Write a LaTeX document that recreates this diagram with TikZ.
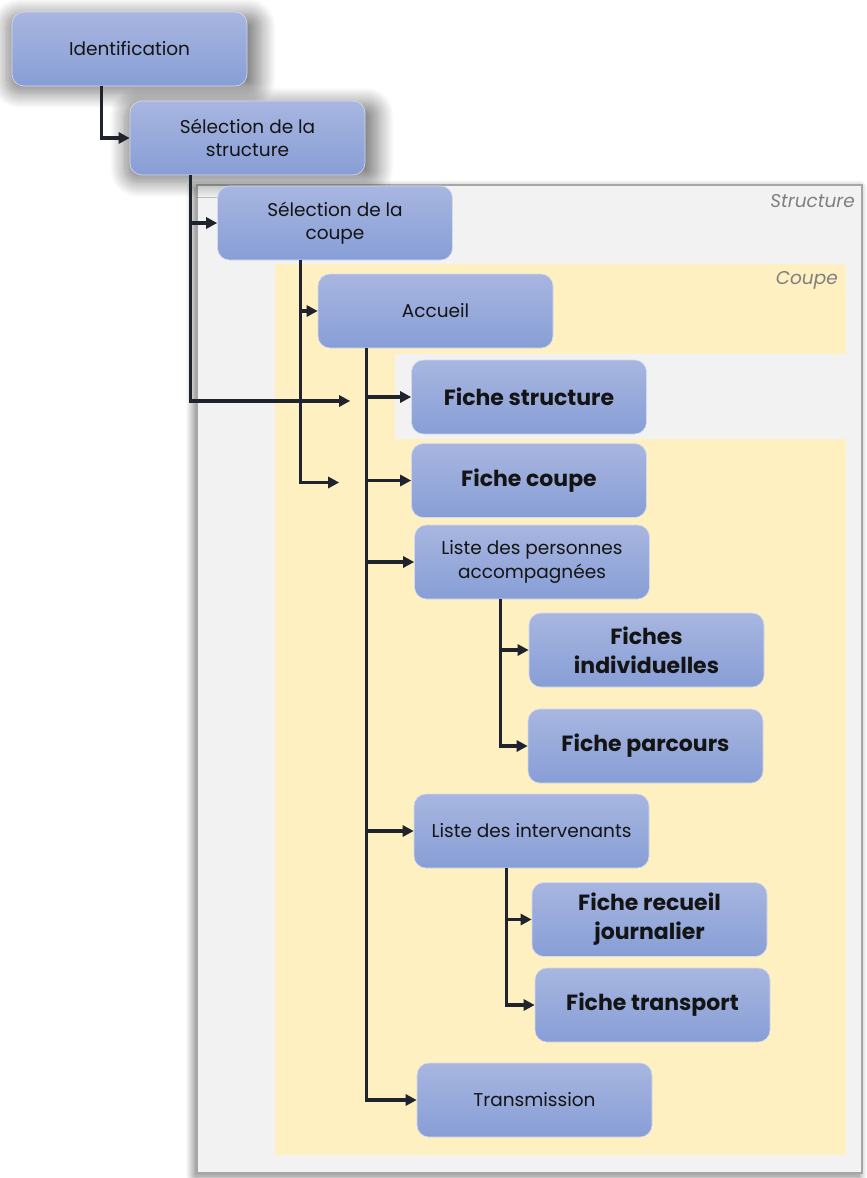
\documentclass[tikz,border=0pt]{standalone}
\usepackage{fontspec}
\setmainfont{Poppins}
\usetikzlibrary{shadows.blur, arrows.meta}
\definecolor{ntop}{HTML}{A8B6E0}
\definecolor{nbot}{HTML}{879ED6}
\definecolor{conncol}{HTML}{1E232D}
\definecolor{panelgrey}{HTML}{F2F2F2}
\definecolor{panelyellow}{HTML}{FFF0C2}
\definecolor{lblgrey}{HTML}{7F7F7F}
\definecolor{txt}{HTML}{141414}
\begin{document}
\begin{tikzpicture}[x=1pt,y=-1pt,
  box/.style={rectangle, rounded corners=12pt, minimum width=235pt, minimum height=74pt,
    top color=ntop, bottom color=nbot, draw=ntop!50!white, line width=0.6pt,
    align=center, text=txt, font=\fontsize{18.5}{23.5}\selectfont, inner sep=0pt},
  bbox/.style={box, font=\fontsize{22}{29}\selectfont\bfseries},
  glow/.style={blur shadow={shadow xshift=4pt, shadow yshift=-4pt, shadow scale=1.08,
    shadow opacity=50, shadow blur steps=18, shadow blur radius=14pt}},
  conn/.style={draw=conncol, line width=3.2pt, line join=miter, -{Triangle[length=11pt,width=11pt]}},
  panellbl/.style={anchor=east, text=lblgrey, font=\fontsize{18.5}{22}\selectfont\itshape, inner sep=0pt}
]
\useasboundingbox (0,0) rectangle (867,1178);

% panels
\fill[panelgrey, draw=black!35, line width=2pt,
  blur shadow={shadow xshift=-3pt, shadow yshift=-3pt, shadow scale=1.0, shadow opacity=55,
    shadow blur steps=12, shadow blur radius=8pt}]
  (197,185) rectangle (862,1173);
\fill[panelyellow] (275,264) rectangle (846,1155);
\fill[panelgrey] (395,354) rectangle (846,439);
\node[panellbl] (lstruct) at (855,201) {Structure};
\node[panellbl] (lcoupe) at (838,280) {Coupe};

% nodes
\node[box, glow] (ident) at (129.5,49) {Identification};
\node[box, glow] (selstruct) at (247.5,138) {Sélection de la\\structure};
\node[box] (selcoupe) at (335,223) {Sélection de la\\coupe};
\node[box] (accueil) at (435.5,311) {Accueil};
\node[bbox] (fstruct) at (529,397) {Fiche structure};
\node[bbox] (fcoupe) at (529,480.5) {Fiche coupe};
\node[box] (lpers) at (532,562) {Liste des personnes\\accompagnées};
\node[bbox] (findiv) at (646.5,650) {Fiches\\individuelles};
\node[bbox] (fparc) at (645.5,746) {Fiche parcours};
\node[box] (linter) at (531.5,831) {Liste des intervenants};
\node[bbox] (frecueil) at (649.5,919.5) {Fiche recueil\\journalier};
\node[bbox] (ftrans) at (652.5,1005) {Fiche transport};
\node[box] (transm) at (534.5,1100) {Transmission};

% free ends
\path (fstruct.west) ++(-61,4) coordinate (fsend);
\path (fcoupe.west) ++(-72,2) coordinate (fcend);

% connectors
\draw[conn] ([xshift=90pt]ident.south west) |- (selstruct);
\draw[conn] ([xshift=61pt]selstruct.south west) |- (selcoupe);
\draw[conn] ([xshift=61pt]selstruct.south west) |- (fsend);
\draw[conn] ([xshift=83pt]selcoupe.south west) |- (accueil);
\draw[conn] ([xshift=83pt]selcoupe.south west) |- (fcend);
\draw[conn] ([xshift=49pt]accueil.south west) |- (fstruct);
\draw[conn] ([xshift=49pt]accueil.south west) |- (fcoupe);
\draw[conn] ([xshift=49pt]accueil.south west) |- (lpers);
\draw[conn] ([xshift=49pt]accueil.south west) |- (linter);
\draw[conn] ([xshift=49pt]accueil.south west) |- (transm);
\draw[conn] ([xshift=86pt]lpers.south west) |- (findiv);
\draw[conn] ([xshift=86pt]lpers.south west) |- (fparc);
\draw[conn] ([xshift=93pt]linter.south west) |- (frecueil);
\draw[conn] ([xshift=93pt]linter.south west) |- (ftrans);
\end{tikzpicture}
\end{document}
